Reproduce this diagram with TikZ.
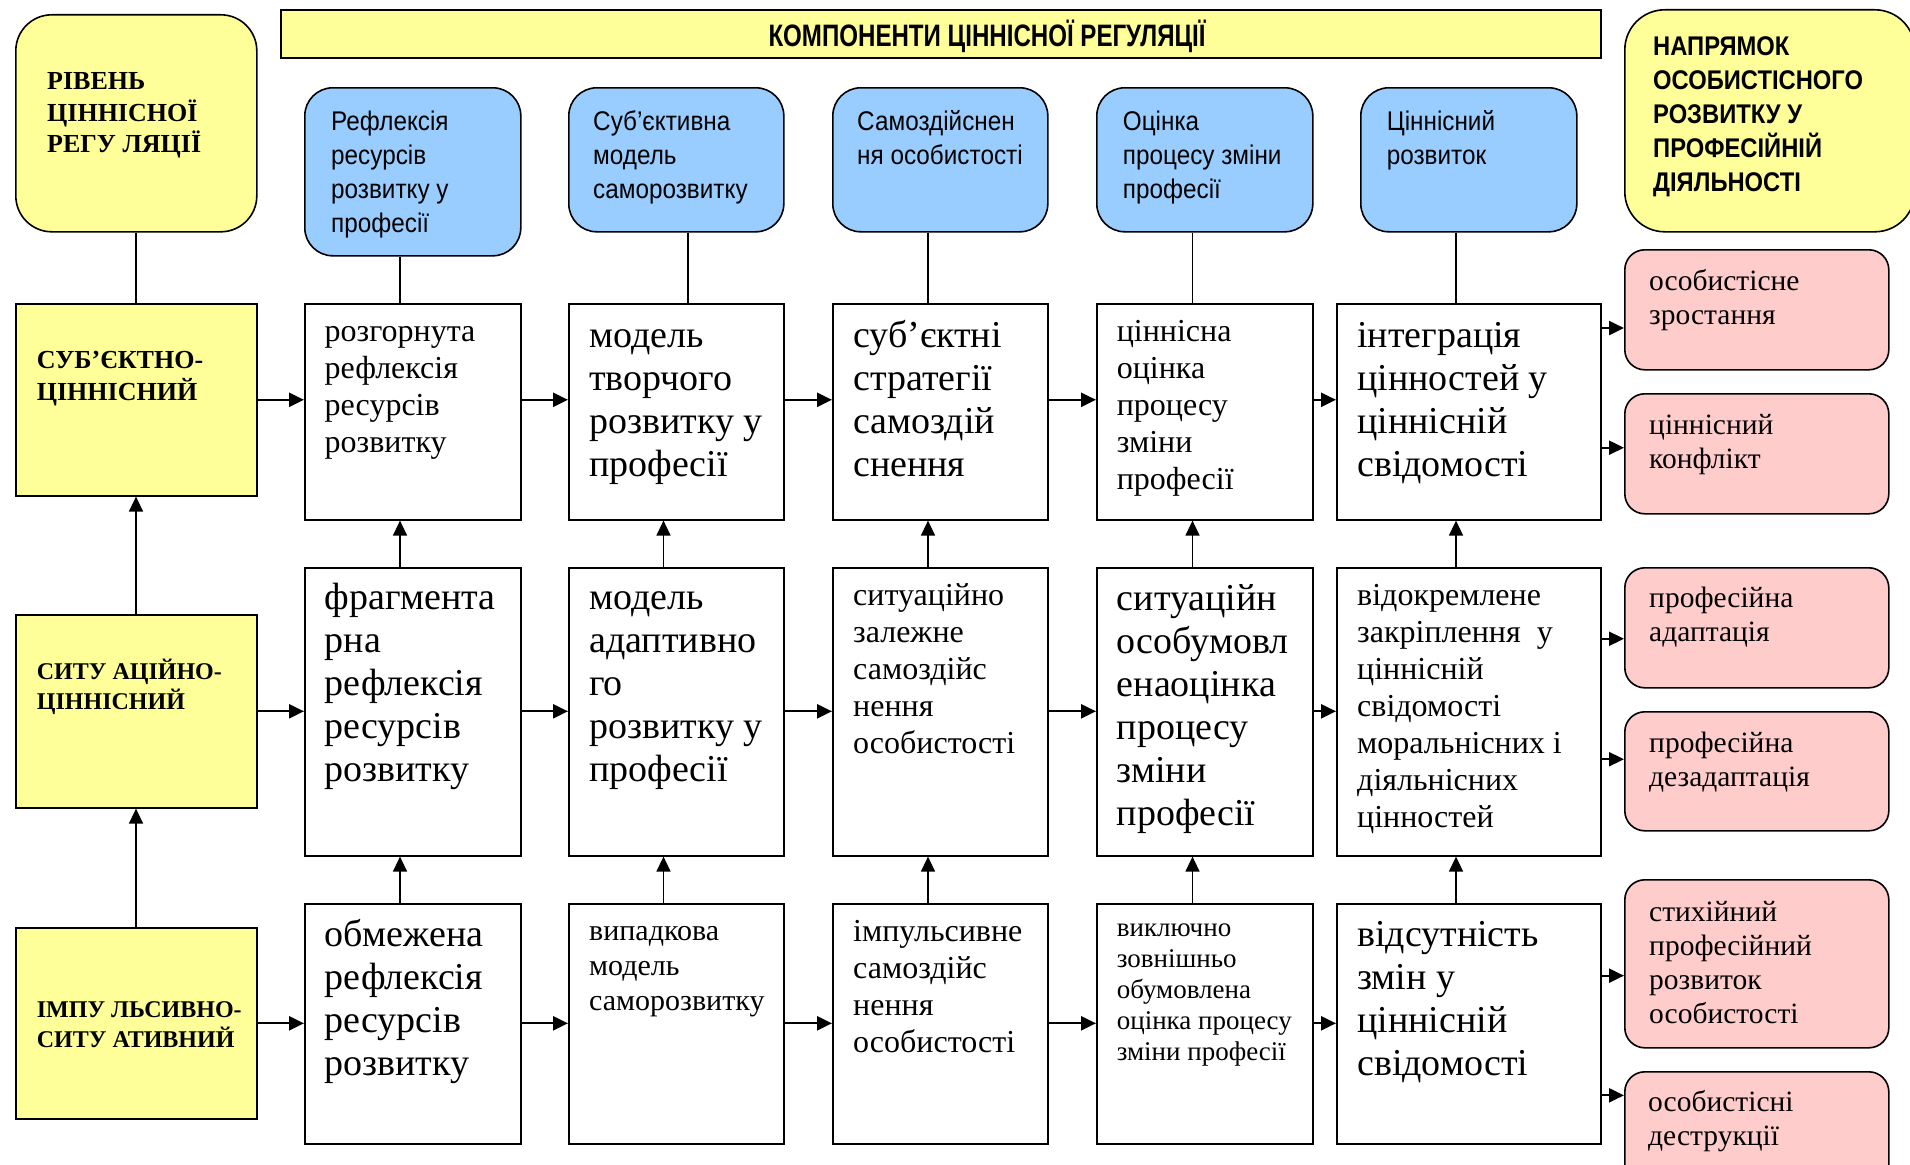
\documentclass[tikz,border=0pt]{standalone}
\usepackage{fontspec}
\usepackage{graphicx}
\setmainfont{Liberation Serif}
\newfontfamily\bluefont[FakeStretch=0.9]{Liberation Sans}
\newfontfamily\hdrfont[FakeStretch=0.88]{Liberation Sans}
\usetikzlibrary{arrows.meta,calc}
\definecolor{ylw}{HTML}{FFFF99}
\definecolor{blu}{HTML}{99CCFF}
\definecolor{pnk}{HTML}{FFCCCC}
\tikzset{
  boxbase/.style={draw=black, line width=1.6pt, inner sep=0pt, anchor=north west},
  wbox/.style={boxbase, fill=white},
  ybox/.style={boxbase, fill=ylw},
  yrbox/.style={boxbase, fill=ylw, rounded corners=36pt},
  bbox/.style={boxbase, fill=blu, rounded corners=28pt},
  pbox/.style={boxbase, fill=pnk, rounded corners=20pt},
  txt/.style={anchor=north west, inner sep=0pt, align=left},
  tL/.style={txt, font=\fontsize{38}{43}\selectfont},
  tM/.style={txt, font=\fontsize{32}{37}\selectfont},
  tS/.style={txt, font=\fontsize{30}{35}\selectfont},
  tXS/.style={txt, font=\fontsize{27}{31}\selectfont},
  tP/.style={txt, font=\fontsize{29.5}{34}\selectfont},
  tB/.style={txt, font=\bluefont\fontsize{27}{34}\selectfont},
  tY/.style={txt, font=\bfseries\fontsize{26}{30.5}\selectfont},
  tYs/.style={txt, font=\bfseries\fontsize{24}{28.5}\selectfont},
  tH/.style={txt, font=\hdrfont\bfseries\fontsize{27}{34}\selectfont},
  link/.style={line width=1.4pt},
  varr/.style={line width=1.4pt, -{Triangle[length=15pt,width=14pt]}},
  harr/.style={line width=2.2pt, -{Triangle[length=15pt,width=14pt]}}
}
\begin{document}
\begin{tikzpicture}[x=1pt,y=-1pt]
\useasboundingbox (0,0) rectangle (1910,1164);
\clip (0,0) rectangle (1910,1164);
\fill[white] (0,0) rectangle (1910,1164);

% header boxes
\node[yrbox, minimum width=241pt, minimum height=217pt] (lvl) at (15,14) {};
\node[ybox, minimum width=1320pt, minimum height=48pt] (bar) at (280,9) {};
\node[yrbox, rounded corners=40pt, minimum width=290pt, minimum height=222pt] (dir) at (1624,9) {};

\node[bbox, minimum width=216pt, minimum height=168pt] (b1) at (304,87) {};
\node[bbox, minimum width=215pt, minimum height=144pt] (b2) at (568,87) {};
\node[bbox, minimum width=215pt, minimum height=144pt] (b3) at (832,87) {};
\node[bbox, minimum width=216pt, minimum height=144pt] (b4) at (1096,87) {};
\node[bbox, minimum width=216pt, minimum height=144pt] (b5) at (1360,87) {};

% level boxes
\node[ybox, minimum width=241pt, minimum height=192pt] (y1) at (15,303) {};
\node[ybox, minimum width=241pt, minimum height=193pt] (y2) at (15,614) {};
\node[ybox, minimum width=241pt, minimum height=191pt] (y3) at (15,927) {};

% white boxes
\node[wbox, minimum width=216pt, minimum height=216pt] (w11) at (304,303) {};
\node[wbox, minimum width=215pt, minimum height=216pt] (w12) at (568,303) {};
\node[wbox, minimum width=215pt, minimum height=216pt] (w13) at (832,303) {};
\node[wbox, minimum width=216pt, minimum height=216pt] (w14) at (1096,303) {};
\node[wbox, minimum width=264pt, minimum height=216pt] (w15) at (1336,303) {};

\node[wbox, minimum width=216pt, minimum height=288pt] (w21) at (304,567) {};
\node[wbox, minimum width=215pt, minimum height=288pt] (w22) at (568,567) {};
\node[wbox, minimum width=215pt, minimum height=288pt] (w23) at (832,567) {};
\node[wbox, minimum width=216pt, minimum height=288pt] (w24) at (1096,567) {};
\node[wbox, minimum width=264pt, minimum height=288pt] (w25) at (1336,567) {};

\node[wbox, minimum width=216pt, minimum height=240pt] (w31) at (304,903) {};
\node[wbox, minimum width=215pt, minimum height=240pt] (w32) at (568,903) {};
\node[wbox, minimum width=215pt, minimum height=240pt] (w33) at (832,903) {};
\node[wbox, minimum width=216pt, minimum height=240pt] (w34) at (1096,903) {};
\node[wbox, minimum width=264pt, minimum height=240pt] (w35) at (1336,903) {};

% pink boxes
\node[pbox, minimum width=264pt, minimum height=120pt] (p1) at (1624,249) {};
\node[pbox, minimum width=264pt, minimum height=120pt] (p2) at (1624,393) {};
\node[pbox, minimum width=264pt, minimum height=120pt] (p3) at (1624,567) {};
\node[pbox, minimum width=264pt, minimum height=119pt] (p4) at (1624,711) {};
\node[pbox, minimum width=264pt, minimum height=168pt] (p5) at (1624,879) {};
\node[pbox, minimum width=264pt, minimum height=120pt] (p6) at (1624,1071) {};

% column coordinates
\coordinate (k0) at (136,0);
\coordinate (k1) at (400,0);
\coordinate (k2t) at (688,0);
\coordinate (k2) at (663.5,0);
\coordinate (k3) at (928,0);
\coordinate (k4) at (1192.5,0);
\coordinate (k5) at (1456,0);

% links from header to first row
\draw[link] (lvl.south -| k0) -- (y1.north -| k0);
\draw[link] (b1.south -| k1) -- (w11.north -| k1);
\draw[link] (b2.south -| k2t) -- (w12.north -| k2t);
\draw[link] (b3.south -| k3) -- (w13.north -| k3);
\draw[link] (b4.south -| k4) -- (w14.north -| k4);
\draw[link] (b5.south -| k5) -- (w15.north -| k5);

% vertical arrows
\draw[varr] (y2.north -| k0) -- (y1.south -| k0);
\draw[varr] (y3.north -| k0) -- (y2.south -| k0);
\draw[varr] (w21.north -| k1) -- (w11.south -| k1);
\draw[varr] (w31.north -| k1) -- (w21.south -| k1);
\draw[varr] (w22.north -| k2) -- (w12.south -| k2);
\draw[varr] (w32.north -| k2) -- (w22.south -| k2);
\draw[varr] (w23.north -| k3) -- (w13.south -| k3);
\draw[varr] (w33.north -| k3) -- (w23.south -| k3);
\draw[varr] (w24.north -| k4) -- (w14.south -| k4);
\draw[varr] (w34.north -| k4) -- (w24.south -| k4);
\draw[varr] (w25.north -| k5) -- (w15.south -| k5);
\draw[varr] (w35.north -| k5) -- (w25.south -| k5);

% horizontal arrows
\foreach \r in {1,2,3}{
  \draw[harr] (y\r.east) -- (w\r1.west |- y\r.east);
  \draw[harr] (w\r1.east |- y\r.east) -- (w\r2.west |- y\r.east);
  \draw[harr] (w\r2.east |- y\r.east) -- (w\r3.west |- y\r.east);
  \draw[harr] (w\r3.east |- y\r.east) -- (w\r4.west |- y\r.east);
  \draw[harr] (w\r4.east |- y\r.east) -- (w\r5.west |- y\r.east);
}

% arrows to outcomes
\coordinate (t1) at ($(p1.north west)!0.65!(p1.south west)$);
\coordinate (t2) at ($(p2.north west)!0.45!(p2.south west)$);
\coordinate (t3) at ($(p3.north west)!0.59!(p3.south west)$);
\coordinate (t4) at ($(p4.north west)!0.40!(p4.south west)$);
\coordinate (t5) at ($(p5.north west)!0.57!(p5.south west)$);
\coordinate (t6) at ($(p6.north west)!0.20!(p6.south west)$);
\draw[harr] (w15.east |- t1) -- (t1);
\draw[harr] (w15.east |- t2) -- (t2);
\draw[harr] (w25.east |- t3) -- (t3);
\draw[harr] (w25.east |- t4) -- (t4);
\draw[harr] (w35.east |- t5) -- (t5);
\draw[harr] (w35.east |- t6) -- (t6);

% texts: header
\node[anchor=base, inner sep=0pt, font=\hdrfont\bfseries\fontsize{31}{36}\selectfont] (ttl) at (987,46.7)
  {\resizebox{437pt}{\height}{КОМПОНЕНТИ ЦІННІСНОЇ РЕГУЛЯЦІЇ}};
\node[tY] (lvlt) at (47,68.2) {\strut РІВЕНЬ\\ЦІННІСНОЇ\\РЕГУ ЛЯЦІЇ};
\node[tH] (dirt) at (1653,31.2) {\strut НАПРЯМОК\\ОСОБИСТІСНОГО\\РОЗВИТКУ У\\ПРОФЕСІЙНІЙ\\ДІЯЛЬНОСТІ};

\node[tB] (b1t) at (331,106.7) {\strut Рефлексія\\ресурсів\\розвитку у\\професії};
\node[tB] (b2t) at (593,106.7) {\strut Суб’єктивна\\модель\\саморозвитку};
\node[tB] (b3t) at (857,106.7) {\strut Самоздійснен\\ня особистості};
\node[tB] (b4t) at (1122.7,106.7) {\strut Оцінка\\процесу зміни\\професії};
\node[tB] (b5t) at (1386.6,106.7) {\strut Ціннісний\\розвиток};

% level texts
\node[tY, font=\bfseries\fontsize{26}{31}\selectfont] (y1t) at (36.7,346.6) {\strut СУБ’ЄКТНО-\\ЦІННІСНИЙ};
\node[tYs] (y2t) at (36.7,658.5) {\strut СИТУ АЦІЙНО-\\ЦІННІСНИЙ};
\node[tYs] (y3t) at (36.7,997.2) {\strut ІМПУ ЛЬСИВНО-\\СИТУ АТИВНИЙ};

% row 1 texts
\node[tM] (w11t) at (324.5,315.1) {\strut розгорнута\\рефлексія\\ресурсів\\розвитку};
\node[tL] (w12t) at (589,316.9) {\strut модель\\творчого\\розвитку у\\професії};
\node[tL] (w13t) at (853,316.9) {\strut суб’єктні\\стратегії\\самоздій\\снення};
\node[tM] (w14t) at (1116.6,315.1) {\strut ціннісна\\оцінка\\процесу\\зміни\\професії};
\node[tL] (w15t) at (1357,316.9) {\strut інтеграція\\цінностей у\\ціннісній\\свідомості};

% row 2 texts
\node[tL] (w21t) at (324.5,579.4) {\strut фрагмента\\рна\\рефлексія\\ресурсів\\розвитку};
\node[tL] (w22t) at (589,579.4) {\strut модель\\адаптивно\\го\\розвитку у\\професії};
\node[tM] (w23t) at (853,579.1) {\strut ситуаційно\\залежне\\самоздійс\\нення\\особистості};
\node[tL] (w24t) at (1116.6,579.9) {\strut ситуаційн\\особумовл\\енаоцінка\\процесу\\зміни\\професії};
\node[tM] (w25t) at (1357,579.1) {\strut відокремлене\\закріплення~~у\\ціннісній\\свідомості\\моральнісних і\\діяльнісних\\цінностей};

% row 3 texts
\node[tL] (w31t) at (324.5,915.9) {\strut обмежена\\рефлексія\\ресурсів\\розвитку};
\node[tS] (w32t) at (589,915.5) {\strut випадкова\\модель\\саморозвитку};
\node[tM] (w33t) at (853,915.6) {\strut імпульсивне\\самоздійс\\нення\\особистості};
\node[tXS] (w34t) at (1116.6,914.8) {\strut виключно\\зовнішньо\\обумовлена\\оцінка процесу\\зміни професії};
\node[tL] (w35t) at (1357,916.4) {\strut відсутність\\змін у\\ціннісній\\свідомості};

% outcome texts
\node[tP] (p1t) at (1649,266.2) {\strut особистісне\\зростання};
\node[tP] (p2t) at (1649,410.2) {\strut ціннісний\\конфлікт};
\node[tP] (p3t) at (1649,583.2) {\strut професійна\\адаптація};
\node[tP] (p4t) at (1649,728.2) {\strut професійна\\дезадаптація};
\node[tP] (p5t) at (1649,897.7) {\strut стихійний\\професійний\\розвиток\\особистості};
\node[tP] (p6t) at (1648,1087.2) {\strut особистісні\\деструкції};
\end{tikzpicture}
\end{document}
